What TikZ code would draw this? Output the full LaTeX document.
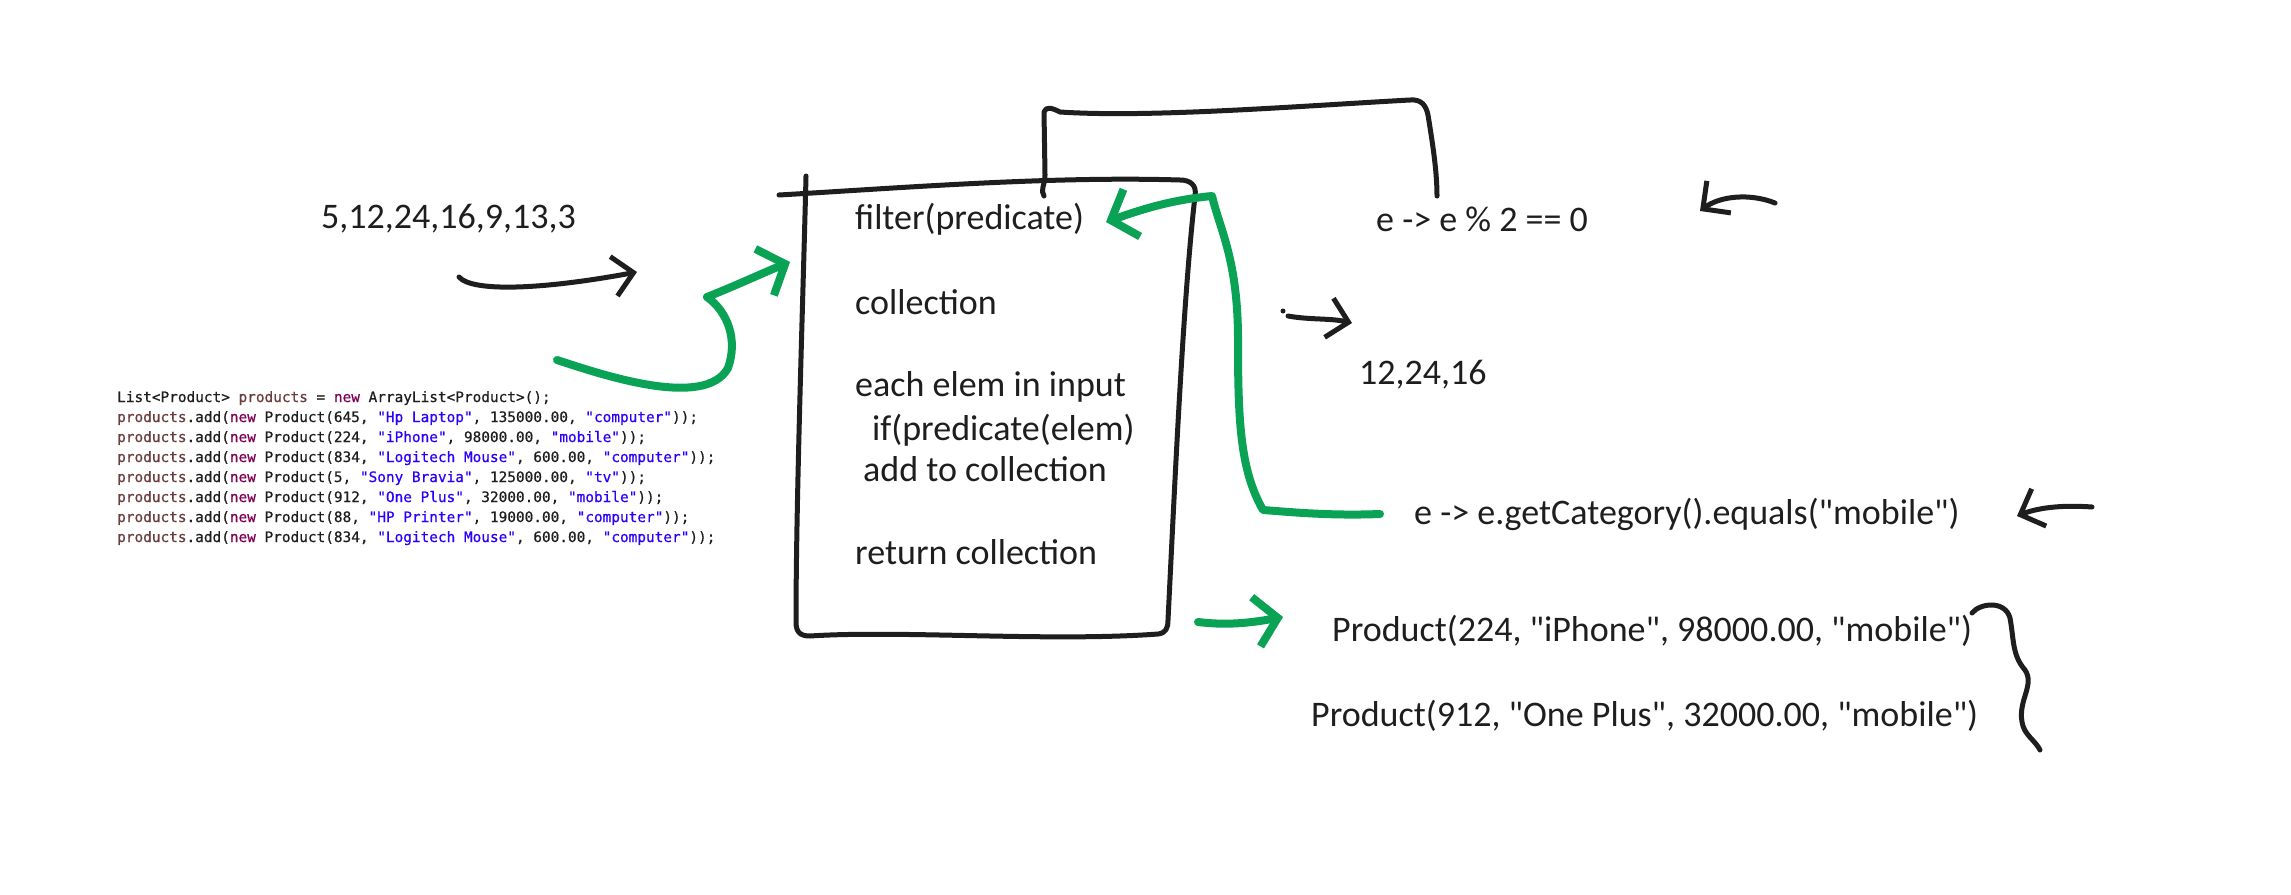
\documentclass[tikz,border=0pt]{standalone}
\usepackage{fontspec}
\usetikzlibrary{arrows.meta}
\newfontfamily\hand{Carlito}
\newfontfamily\codefont[FakeBold=0.6]{DejaVu Sans Mono}
\definecolor{ink}{HTML}{1E1E1E}
\definecolor{grn}{HTML}{0AA355}
\definecolor{kwc}{HTML}{7F0055}
\definecolor{strc}{HTML}{2A00FF}
\definecolor{varc}{HTML}{6A3E3E}
\newcommand{\pv}{\textcolor{varc}{products}}
\newcommand{\kn}{\textcolor{kwc}{new}}
\newcommand{\st}[1]{\textcolor{strc}{#1}}
\begin{document}
\begin{tikzpicture}[x=1pt,y=-1pt,
  hw/.style={font=\hand\fontsize{36}{40}\selectfont, text=ink, anchor=west, inner sep=0pt},
  codeline/.style={font=\codefont\fontsize{14.4}{17}\selectfont, anchor=base west, inner sep=0pt, text=ink},
  sk/.style={draw=ink, line width=5pt, line cap=round, line join=round},
  gk/.style={draw=grn, line width=8pt, line cap=round, line join=round},
  btip/.style={-{Straight Barb[length=20pt,width=40pt]}},
  gtip/.style={-{Straight Barb[length=22pt,width=50pt]}}]
\fill[white] (0,0) rectangle (2291,894);
\path[use as bounding box] (0,0) rectangle (2291,894);

% texts
\node[hw] (input) at (321,219) {5,12,24,16,9,13,3};
\node[hw] (filt) at (855,219) {filter(predicate)};
\node[hw] (coll) at (855,302) {collection};
\node[hw] (each) at (855,387) {each elem in input};
\node[hw] (ifp) at (872,430) {if(predicate(elem)};
\node[hw] (addc) at (863,469) {add to collection};
\node[hw] (ret) at (855,552) {return collection};
\node[hw] (lam1) at (1376,219) {e -> e \% 2 == 0};
\node[hw] (res1) at (1359,375) {12,24,16};
\node[hw] (lam2) at (1414,514) {e -> e.getCategory().equals("mobile")};
\node[hw] (prod1) at (1332,631) {Product(224, "iPhone", 98000.00, "mobile")};
\node[hw] (prod2) at (1311,716) {Product(912, "One Plus", 32000.00, "mobile")};

% code
\node[codeline] (c1) at (117,402) {List<Product> \pv{} = \kn{} ArrayList<Product>();};
\node[codeline] (c2) at (117,422) {\pv.add(\kn{} Product(645, \st{"Hp Laptop"}, 135000.00, \st{"computer"}));};
\node[codeline] (c3) at (117,442) {\pv.add(\kn{} Product(224, \st{"iPhone"}, 98000.00, \st{"mobile"}));};
\node[codeline] (c4) at (117,462) {\pv.add(\kn{} Product(834, \st{"Logitech Mouse"}, 600.00, \st{"computer"}));};
\node[codeline] (c5) at (117,482) {\pv.add(\kn{} Product(5, \st{"Sony Bravia"}, 125000.00, \st{"tv"}));};
\node[codeline] (c6) at (117,502) {\pv.add(\kn{} Product(912, \st{"One Plus"}, 32000.00, \st{"mobile"}));};
\node[codeline] (c7) at (117,522) {\pv.add(\kn{} Product(88, \st{"HP Printer"}, 19000.00, \st{"computer"}));};
\node[codeline] (c8) at (117,542) {\pv.add(\kn{} Product(834, \st{"Logitech Mouse"}, 600.00, \st{"computer"}));};

% box
\draw[sk] (806,176) .. controls (803,300) and (796,500) .. (796,622)
  .. controls (796,632) and (800,636) .. (810,636)
  .. controls (900,630) and (1050,642) .. (1158,634)
  .. controls (1166,633) and (1168,628) .. (1168,620)
  .. controls (1175,480) and (1183,300) .. (1195,196)
  .. controls (1197,185) and (1190,180) .. (1180,180)
  .. controls (1050,176) and (900,188) .. (779,195);
% back frame to lambda
\coordinate (bt) at (1044,196);
\coordinate (lt) at (1437,196);
\draw[sk] (bt) .. controls (1040,190) and (1045,185) .. (1045,175) -- (1044,112)
  .. controls (1046,106) and (1052,108) .. (1060,112)
  .. controls (1150,118) and (1300,106) .. (1410,100)
  .. controls (1422,99) and (1426,106) .. (1428,115)
  .. controls (1432,140) and (1437,170) .. (lt);

% arrows
\coordinate (a1s) at (459,277);
\coordinate (a1e) at (637,272);
\draw[sk,btip] (a1s) .. controls (472,292) and (540,290) .. (a1e);

\coordinate (g1s) at (557,360);
\coordinate (g1e) at (790,262);
\draw[gk,gtip] (g1s) .. controls (600,374) and (705,410) .. (728,368)
  .. controls (738,340) and (728,312) .. (707,297)
  .. controls (735,286) and (765,272) .. (g1e);

\coordinate (g2s) at (1380,514);
\coordinate (g2e) at (1106,222);
\draw[gk,gtip] (g2s) .. controls (1330,516) and (1290,512) .. (1263,510)
  .. controls (1240,470) and (1238,420) .. (1238,340)
  .. controls (1238,260) and (1220,230) .. (1212,196)
  .. controls (1170,200) and (1140,210) .. (g2e);

\coordinate (sd) at (1283,311);
\fill[ink] (sd) circle (2.5);
\coordinate (s1s) at (1288,316);
\coordinate (s1e) at (1352,323);
\draw[sk,btip] (s1s) .. controls (1310,320) and (1330,318) .. (s1e);

\coordinate (r1s) at (1775,203);
\coordinate (r1e) at (1700,211);
\draw[sk,btip] (r1s) .. controls (1750,193) and (1720,196) .. (r1e);

\coordinate (r2s) at (2092,507);
\coordinate (r2e) at (2017,516);
\draw[sk,btip] (r2s) .. controls (2065,505) and (2040,507) .. (r2e);

\coordinate (g3s) at (1198,622);
\coordinate (g3e) at (1283,617);
\draw[gk,gtip] (g3s) .. controls (1230,626) and (1255,622) .. (g3e);

% brace
\coordinate (b1) at (1972,613);
\coordinate (b2) at (2040,750);
\draw[sk] (b1) .. controls (1980,603) and (2005,600) .. (2010,618)
  .. controls (2014,640) and (2012,655) .. (2025,670)
  .. controls (2035,685) and (2018,700) .. (2022,722)
  .. controls (2024,735) and (2035,740) .. (b2);
\end{tikzpicture}
\end{document}
